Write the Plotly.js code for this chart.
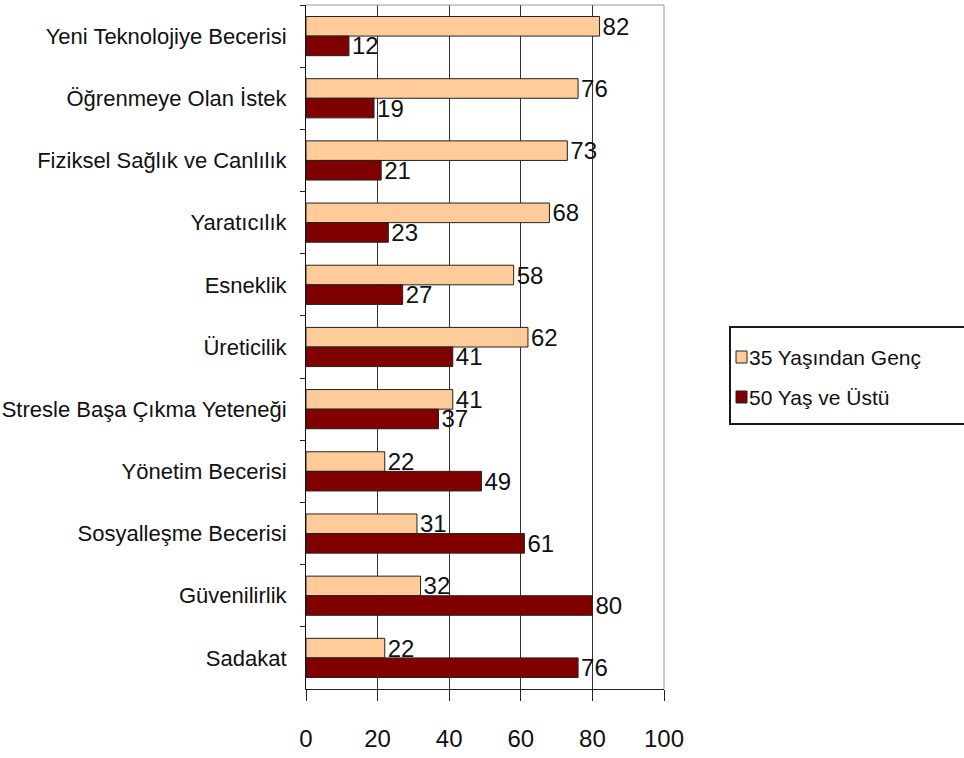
<!DOCTYPE html>
<html>
<head>
<meta charset="utf-8">
<script src="https://cdn.plot.ly/plotly-3.0.1.min.js"></script>
<style>
  html, body { margin: 0; padding: 0; background: #ffffff; }
  #chart { width: 964px; height: 758px; }
</style>
</head>
<body>
<div id="chart"></div>
<script>
// Categories, top to bottom
const categories = [
  'Yeni Teknolojiye Becerisi',
  'Öğrenmeye Olan İstek',
  'Fiziksel Sağlık ve Canlılık',
  'Yaratıcılık',
  'Esneklik',
  'Üreticilik',
  'Stresle Başa Çıkma Yeteneği',
  'Yönetim Becerisi',
  'Sosyalleşme Becerisi',
  'Güvenilirlik',
  'Sadakat'
];

const seriesNames = ['35 Yaşından Genç', '50 Yaş ve Üstü'];
const youngValues = [82, 76, 73, 68, 58, 62, 41, 22, 31, 32, 22];
const olderValues = [12, 19, 21, 23, 27, 41, 37, 49, 61, 80, 76];
const xTickVals = [0, 20, 40, 60, 80, 100];

const FONT = '"Liberation Sans", Arial, sans-serif';
const COLORS = ['#FFCC99', '#800000'];

// Plot area in page pixels
const W = 964, H = 758;
const PL = 306, PR = 664, PT = 5, PB = 689;
const px2x = (px) => (px - PL) / (PR - PL);
const px2y = (py) => (PB - py) / (PB - PT);

function barTrace(name, values, color) {
  return {
    type: 'bar',
    orientation: 'h',
    name: name,
    y: categories,
    x: values,
    marker: { color: color, line: { color: '#222222', width: 1 } },
    text: values.map(String),
    textposition: 'outside',
    textfont: { family: FONT, size: 24, color: '#111111' },
    cliponaxis: false,
    constraintext: 'none',
    hoverinfo: 'x+y+name',
    showlegend: false
  };
}

const data = [
  barTrace(seriesNames[0], youngValues, COLORS[0]),
  barTrace(seriesNames[1], olderValues, COLORS[1])
];

// Legend: bordered box with colour swatches and series names
const legendBox = { left: 730, right: 1010, top: 327, bottom: 424 };
const legendRows = [357, 397];
const shapes = [
  // gray frame on top and right of the plot area
  { type: 'line', xref: 'paper', yref: 'paper', x0: 0, x1: 1, y0: 1, y1: 1,
    line: { color: '#9a9a9a', width: 1 } },
  { type: 'line', xref: 'paper', yref: 'paper', x0: 1, x1: 1, y0: 0, y1: 1,
    line: { color: '#9a9a9a', width: 1 } },
  { type: 'rect', xref: 'paper', yref: 'paper',
    x0: px2x(legendBox.left), x1: px2x(legendBox.right),
    y0: px2y(legendBox.bottom), y1: px2y(legendBox.top),
    line: { color: '#1a1a1a', width: 2 }, fillcolor: 'rgba(0,0,0,0)' }
];
const annotations = [];
seriesNames.forEach((name, i) => {
  const cy = legendRows[i];
  shapes.push({
    type: 'rect', xref: 'paper', yref: 'paper',
    x0: px2x(736), x1: px2x(747), y0: px2y(cy + 6), y1: px2y(cy - 6),
    fillcolor: COLORS[i], line: { color: '#222222', width: 1 }
  });
  annotations.push({
    xref: 'paper', yref: 'paper', x: px2x(747), y: px2y(cy),
    xanchor: 'left', yanchor: 'middle', showarrow: false,
    text: name, font: { family: FONT, size: 21, color: '#111111' }
  });
});

const layout = {
  width: W, height: H,
  margin: { l: PL, r: W - PR, t: PT, b: H - PB, pad: 0 },
  paper_bgcolor: '#ffffff',
  plot_bgcolor: '#ffffff',
  barmode: 'group',
  bargap: 0.37,
  bargroupgap: 0,
  showlegend: false,
  font: { family: FONT, color: '#111111' },
  xaxis: {
    range: [0, 100],
    tickvals: xTickVals,
    ticktext: xTickVals.map(String),
    ticks: 'outside', ticklen: 11, tickcolor: '#222222', tickwidth: 1,
    tickfont: { family: FONT, size: 24, color: '#111111' },
    ticklabelstandoff: 17,
    showgrid: true, gridcolor: '#333333', gridwidth: 1,
    showline: true, linecolor: '#222222', linewidth: 1,
    zeroline: false, fixedrange: true
  },
  yaxis: {
    type: 'category',
    autorange: 'reversed',
    ticks: 'outside', ticklen: 5, tickcolor: '#222222', tickwidth: 1,
    tickson: 'boundaries',
    tickfont: { family: FONT, size: 22, color: '#111111' },
    ticklabelstandoff: 14,
    showgrid: false,
    showline: true, linecolor: '#111111', linewidth: 1,
    zeroline: false, fixedrange: true
  },
  shapes: shapes,
  annotations: annotations
};

Plotly.newPlot('chart', data, layout, { displayModeBar: false, staticPlot: true });
</script>
</body>
</html>
